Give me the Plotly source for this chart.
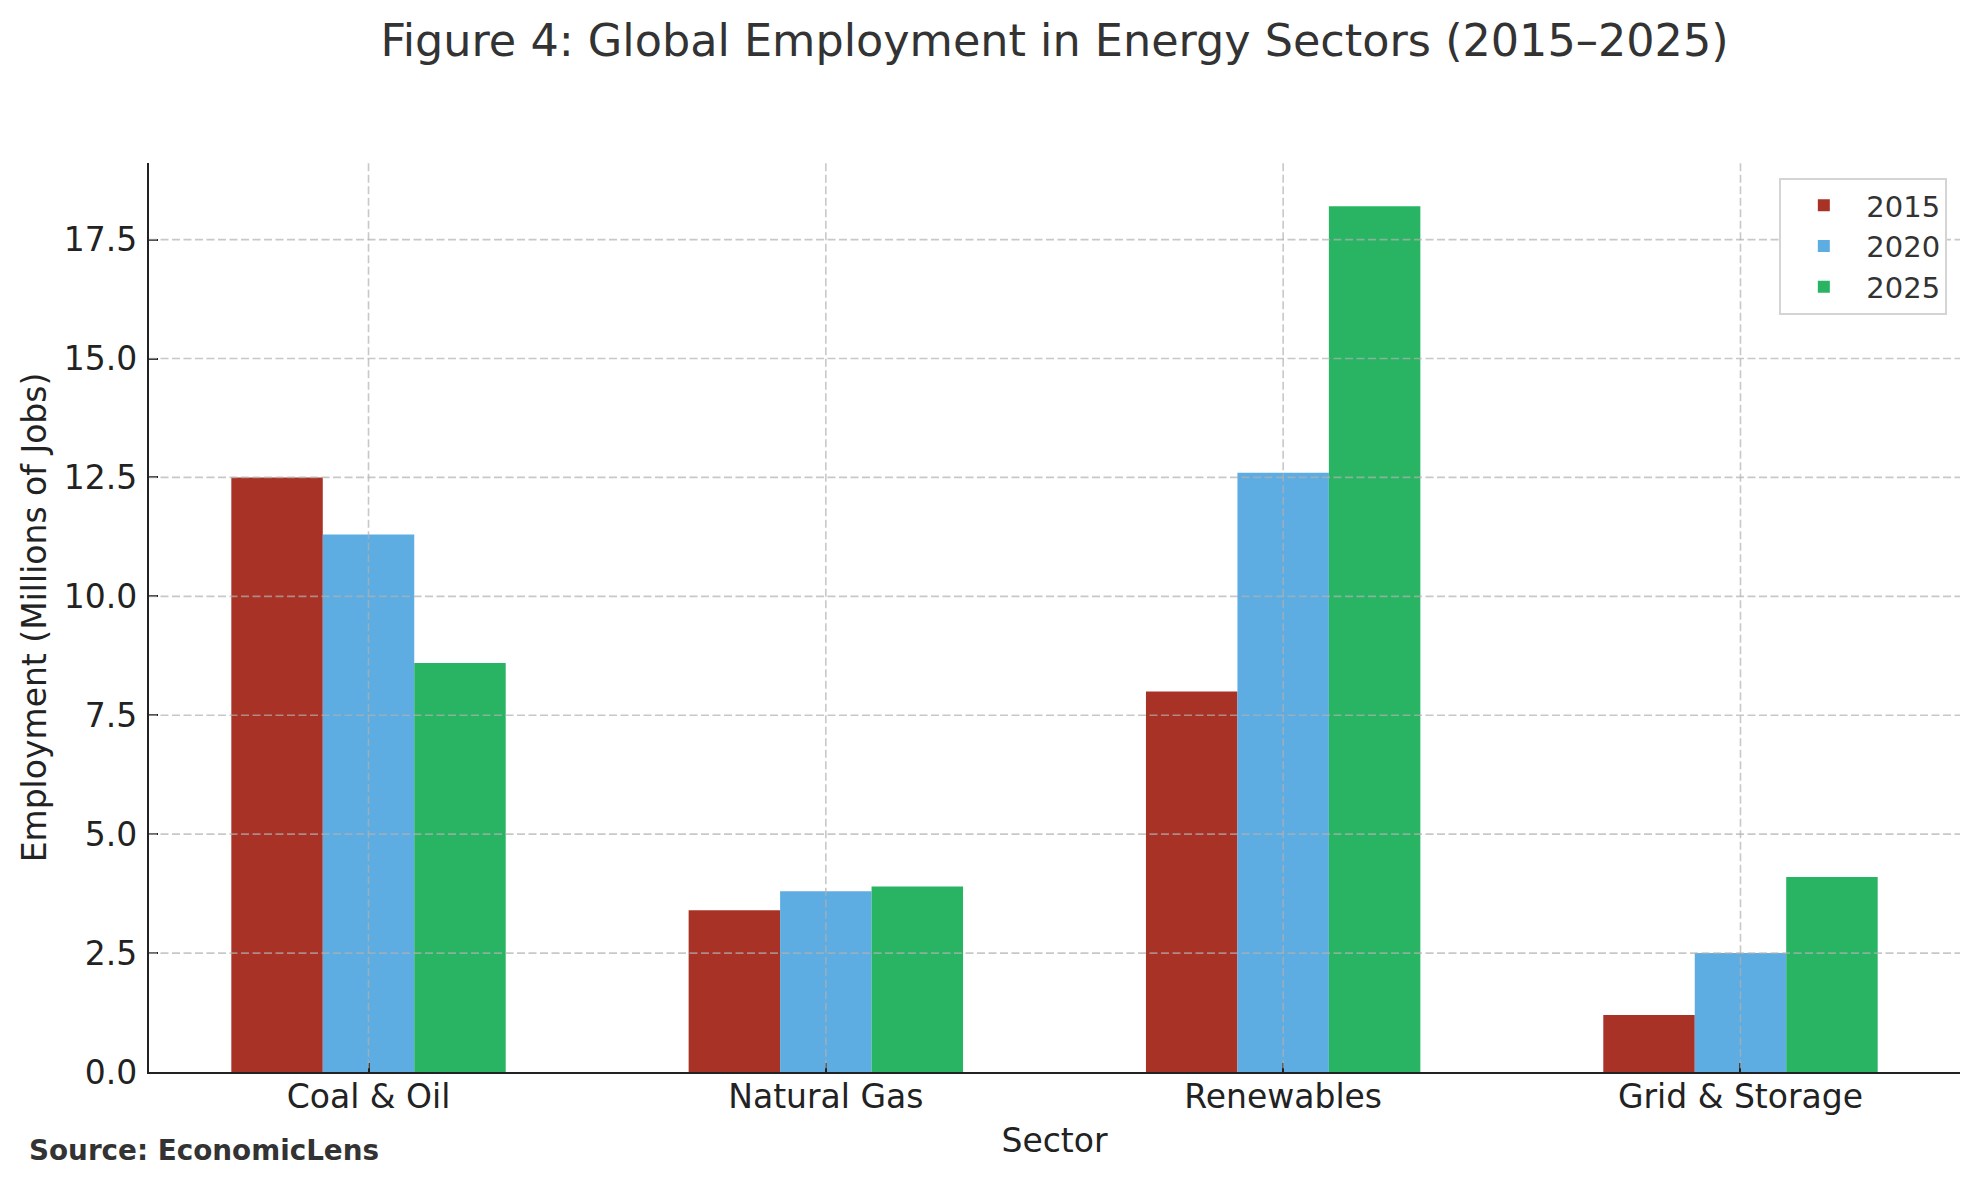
import plotly.graph_objects as go

sectors = ["Coal & Oil", "Natural Gas", "Renewables", "Grid & Storage"]
years = ["2015", "2020", "2025"]
jobs_2015 = [12.5, 3.4, 8.0, 1.2]
jobs_2020 = [11.3, 3.8, 12.6, 2.5]
jobs_2025 = [8.6, 3.9, 18.2, 4.1]
series = [jobs_2015, jobs_2020, jobs_2025]
colors = ["#a93226", "#5dade2", "#28b463"]
ytick_vals = [0, 2.5, 5.0, 7.5, 10.0, 12.5, 15.0, 17.5]

FONT = "DejaVu Sans"
OFF = 8  # page body margin
W, H = 1979 - OFF, 1185 - OFF
L, R, T, B = 149 - OFF, 19, 163 - OFF, 113
PW, PH = W - L - R, H - T - B

fig = go.Figure()
for yr, vals, col in zip(years, series, colors):
    fig.add_trace(go.Bar(x=sectors, y=vals, name=yr, marker=dict(color=col, line=dict(width=0))))

grid_col = "rgba(176,176,176,0.7)"
shapes = []
for v in ytick_vals[1:]:
    shapes.append(dict(type="line", xref="paper", yref="y", x0=0, x1=1, y0=v, y1=v,
                       line=dict(color=grid_col, width=1.6, dash="8px,3.5px"), layer="above"))
for s in sectors:
    shapes.append(dict(type="line", xref="x", yref="paper", x0=s, x1=s, y0=0.004, y1=1,
                       line=dict(color=grid_col, width=1.6, dash="8px,3.5px"), layer="above"))

fig.update_layout(
    width=W, height=H,
    margin=dict(l=L, r=R, t=T, b=B, pad=0),
    paper_bgcolor="white", plot_bgcolor="white",
    font=dict(family=FONT, color="#222222", size=33),
    barmode="group", bargap=0.4, bargroupgap=0,
    title=dict(text="Figure 4: Global Employment in Energy Sectors (2015–2025)",
               font=dict(family=FONT, size=44.5, color="#333333"),
               x=0.5, xref="paper", xanchor="center",
               y=1 - (40 - OFF) / H, yref="container", yanchor="middle"),
    xaxis=dict(type="category", range=[-0.48, 3.48], showgrid=False, zeroline=False,
               showline=True, linecolor="#222222", linewidth=2.2,
               ticks="inside", ticklen=9, tickwidth=2, tickcolor="#222222",
               tickfont=dict(size=33, color="#222222"), ticklabelstandoff=-6,
               title=dict(text="Sector", font=dict(size=33, color="#222222"), standoff=14)),
    yaxis=dict(range=[0, 19.11], tickvals=ytick_vals, tickformat=".1f", showgrid=False,
               zeroline=False, showline=True, linecolor="#222222", linewidth=2.2,
               ticks="inside", ticklen=9, tickwidth=2, tickcolor="#222222",
               tickfont=dict(size=33, color="#222222"), ticklabelstandoff=3,
               title=dict(text="Employment (Millions of Jobs)", font=dict(size=33, color="#222222"), standoff=7)),
    legend=dict(x=0.993, y=0.9835, xanchor="right", yanchor="top",
                bgcolor="white", bordercolor="#d4d4d4", borderwidth=2,
                font=dict(size=29, color="#333333"), traceorder="normal", itemwidth=75),
    shapes=shapes,
    annotations=[dict(text="<b>Source: EconomicLens</b>", xref="paper", yref="paper",
                      x=(27 - OFF - L) / PW, y=(1072 - 1150) / PH,
                      xanchor="left", yanchor="middle", showarrow=False,
                      font=dict(family=FONT, size=27.8, color="#333333"))],
)

fig.write_html("out.html")
